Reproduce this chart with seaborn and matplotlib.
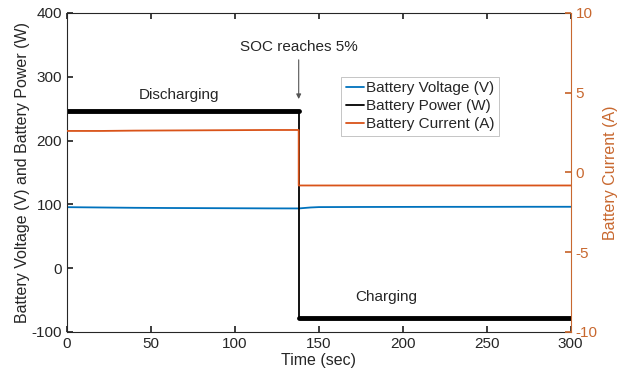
import numpy as np
import pandas as pd
import matplotlib.pyplot as plt
import seaborn as sns

# time axis (sec) and readings
time_dis = [0, 20, 40, 60, 80, 100, 120, 138]
volt_dis = [95.5, 95.0, 94.5, 94.2, 94.0, 93.8, 93.6, 93.5]
power_dis = [247, 247, 247, 247, 247, 247, 247, 247]
curr_dis = [2.6, 2.6, 2.62, 2.63, 2.64, 2.65, 2.66, 2.66]

time_chg = [138, 145, 150, 175, 200, 225, 250, 275, 300]
volt_chg = [93.5, 95.0, 95.6, 95.8, 95.9, 96.0, 96.0, 96.1, 96.1]
power_chg = [-78, -78, -78, -78, -78, -78, -78, -78, -78]
curr_chg = [-0.82, -0.82, -0.82, -0.82, -0.82, -0.82, -0.82, -0.82, -0.82]

# switch instant when SOC hits 5%
t_switch = 138

blue = "#0072BD"
orange = "#D95319"
orange_ax = "#C8682F"

sns.set_theme(style="ticks")
plt.rcParams["font.family"] = ["Liberation Sans", "DejaVu Sans"]
plt.rcParams["font.size"] = 11
plt.rcParams["axes.unicode_minus"] = False

df_dis = pd.DataFrame({"t": time_dis, "v": volt_dis, "p": power_dis, "i": curr_dis})
df_chg = pd.DataFrame({"t": time_chg, "v": volt_chg, "p": power_chg, "i": curr_chg})
df_all = pd.concat([df_dis, df_chg], ignore_index=True)

fig, ax = plt.subplots(figsize=(6.32, 3.81), dpi=100)
fig.subplots_adjust(left=0.106, right=0.903, top=0.966, bottom=0.129)

sns.lineplot(data=df_all, x="t", y="v", ax=ax, color=blue, lw=1.3,
             sort=False, estimator=None, label="Battery Voltage (V)")
sns.lineplot(data=df_all, x="t", y="p", ax=ax, color="black", lw=1.3,
             sort=False, estimator=None, label="Battery Power (W)")
sns.lineplot(data=df_dis, x="t", y="p", ax=ax, color="black", lw=3.5,
             estimator=None, legend=False)
sns.lineplot(data=df_chg, x="t", y="p", ax=ax, color="black", lw=3.5,
             estimator=None, legend=False)

ax2 = ax.twinx()
sns.lineplot(data=df_all, x="t", y="i", ax=ax2, color=orange, lw=1.3,
             sort=False, estimator=None, legend=False)
ax.plot([], [], color=orange, lw=1.3, label="Battery Current (A)")

ax.set_xlim(0, 300)
ax.set_ylim(-100, 400)
ax.set_xticks(np.arange(0, 301, 50))
ax.set_yticks(np.arange(-100, 401, 100))
ax2.set_ylim(-10, 10)
ax2.set_yticks([-10, -5, 0, 5, 10])

ax.set_xlabel("Time (sec)", fontsize=11.5, labelpad=2)
ax.set_ylabel("Battery Voltage (V) and Battery Power (W)", fontsize=11.5, labelpad=1)
ax2.set_ylabel("Battery Current (A)", color=orange_ax, fontsize=11.5, labelpad=4)

ax.tick_params(direction="in", top=True, right=False, labelsize=11,
               colors="#262626", length=4)
ax2.tick_params(direction="in", colors=orange_ax, labelsize=11, length=4)
for s in ["left", "top", "bottom"]:
    ax.spines[s].set_color("#262626")
    ax.spines[s].set_linewidth(0.8)
ax2.spines["right"].set_color(orange_ax)
ax2.spines["right"].set_linewidth(0.8)
ax2.spines["top"].set_visible(False)
ax2.spines["left"].set_visible(False)
ax2.spines["bottom"].set_visible(False)
ax.spines["right"].set_visible(False)

ax.text(67, 272, "Discharging", ha="center", va="center", fontsize=11)
ax.text(190, -45, "Charging", ha="center", va="center", fontsize=11)
ax.annotate("SOC reaches 5%", xy=(t_switch, 265), xytext=(t_switch, 336),
            ha="center", va="bottom", fontsize=11,
            arrowprops=dict(arrowstyle="-|>", color="#555555", lw=0.8,
                            mutation_scale=7, shrinkB=0))

leg = ax.legend(loc="upper left", bbox_to_anchor=(0.544, 0.80), fontsize=11,
                handlelength=1.2, handletextpad=0.15, borderpad=0.3,
                labelspacing=0.25, frameon=True, fancybox=False,
                edgecolor="#aaaaaa", borderaxespad=0)
leg.get_frame().set_linewidth(0.6)

fig.savefig("out.png", dpi=100)
